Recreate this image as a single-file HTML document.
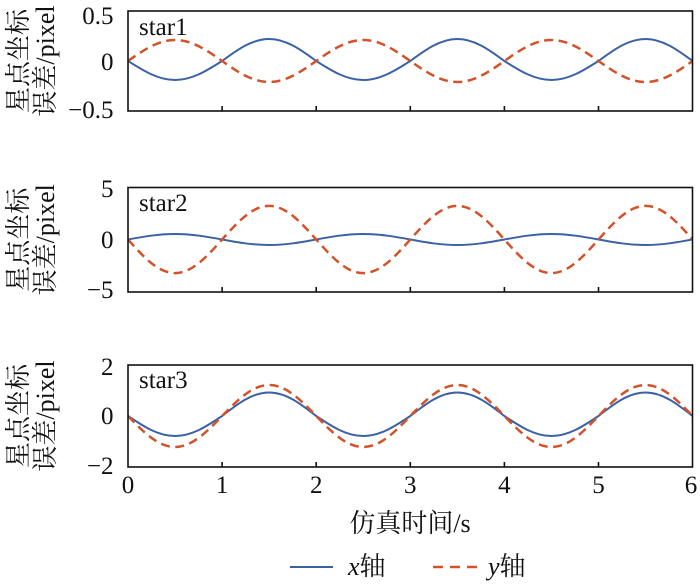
<!DOCTYPE html>
<html>
<head>
<meta charset="utf-8">
<style>
html,body{margin:0;padding:0;background:#fff;}
svg{display:block;}
text{font-family:"Liberation Serif","Noto Serif CJK SC",serif;fill:#111;}
</style>
</head>
<body>
<svg width="700" height="584" viewBox="0 0 700 584" xmlns="http://www.w3.org/2000/svg">
<defs>
<clipPath id="c1"><rect x="128" y="11" width="564.5" height="100"/></clipPath>
<clipPath id="c2"><rect x="128" y="187.5" width="564.5" height="104.5"/></clipPath>
<clipPath id="c3"><rect x="128" y="365" width="564.5" height="102"/></clipPath>
</defs>

<!-- Y labels -->
<g font-size="26">
<text transform="translate(27,61) rotate(-90)" text-anchor="middle">星点坐标</text>
<text transform="translate(54,61) rotate(-90)" text-anchor="middle">误差/pixel</text>
<text transform="translate(27,239.75) rotate(-90)" text-anchor="middle">星点坐标</text>
<text transform="translate(54,239.75) rotate(-90)" text-anchor="middle">误差/pixel</text>
<text transform="translate(27,416) rotate(-90)" text-anchor="middle">星点坐标</text>
<text transform="translate(54,416) rotate(-90)" text-anchor="middle">误差/pixel</text>
</g>

<!-- Y tick labels -->
<g font-size="25" text-anchor="end">
<text x="113.5" y="24">0.5</text>
<text x="113.5" y="70">0</text>
<text x="113.5" y="118">−0.5</text>
<text x="113.5" y="197">5</text>
<text x="113.5" y="248">0</text>
<text x="113.5" y="298">−5</text>
<text x="113.5" y="375">2</text>
<text x="113.5" y="424">0</text>
<text x="113.5" y="474">−2</text>
</g>

<!-- X tick labels -->
<g font-size="25" text-anchor="middle">
<text x="128" y="493">0</text>
<text x="222.1" y="493">1</text>
<text x="316.2" y="493">2</text>
<text x="410.3" y="493">3</text>
<text x="504.4" y="493">4</text>
<text x="598.5" y="493">5</text>
<text x="691" y="493">6</text>
</g>

<!-- X axis label -->
<text x="410" y="532" font-size="26" text-anchor="middle">仿真时间/s</text>

<!-- Panel 1 -->
<g clip-path="url(#c1)" fill="none">
<path stroke="#3b62a6" stroke-width="2" d="M128,61
c15.34,9.73 30.02,19 47.05,19 c17.03,0 31.71,-9.27 47.05,-19
c15.34,-11.27 30.02,-22 47.05,-22 c17.03,0 31.71,10.73 47.05,22
c15.34,9.73 30.02,19 47.05,19 c17.03,0 31.71,-9.27 47.05,-19
c15.34,-11.27 30.02,-22 47.05,-22 c17.03,0 31.71,10.73 47.05,22
c15.34,9.73 30.02,19 47.05,19 c17.03,0 31.71,-9.27 47.05,-19
c15.34,-11.27 30.02,-22 47.05,-22 c17.03,0 31.71,10.73 47.05,22"/>
<path stroke="#d35229" stroke-width="2.5" stroke-dasharray="9 5.5" d="M128,61
c15.34,-10.76 30.02,-21 47.05,-21 c17.03,0 31.71,10.24 47.05,21
c15.34,10.76 30.02,21 47.05,21 c17.03,0 31.71,-10.24 47.05,-21
c15.34,-10.76 30.02,-21 47.05,-21 c17.03,0 31.71,10.24 47.05,21
c15.34,10.76 30.02,21 47.05,21 c17.03,0 31.71,-10.24 47.05,-21
c15.34,-10.76 30.02,-21 47.05,-21 c17.03,0 31.71,10.24 47.05,21
c15.34,10.76 30.02,21 47.05,21 c17.03,0 31.71,-10.24 47.05,-21"/>
</g>

<!-- Panel 2 -->
<g clip-path="url(#c2)" fill="none">
<path stroke="#3b62a6" stroke-width="2" d="M128,239.5
c15.34,-2.82 30.02,-5.5 47.05,-5.5 c17.03,0 31.71,2.68 47.05,5.5
c15.34,2.82 30.02,5.5 47.05,5.5 c17.03,0 31.71,-2.68 47.05,-5.5
c15.34,-2.82 30.02,-5.5 47.05,-5.5 c17.03,0 31.71,2.68 47.05,5.5
c15.34,2.82 30.02,5.5 47.05,5.5 c17.03,0 31.71,-2.68 47.05,-5.5
c15.34,-2.82 30.02,-5.5 47.05,-5.5 c17.03,0 31.71,2.68 47.05,5.5
c15.34,2.82 30.02,5.5 47.05,5.5 c17.03,0 31.71,-2.68 47.05,-5.5"/>
<path stroke="#d35229" stroke-width="2.5" stroke-dasharray="9 5.5" d="M128,239.5
c15.34,17.21 30.02,33.6 47.05,33.6 c17.03,0 31.71,-16.39 47.05,-33.6
c15.34,-17.21 30.02,-33.6 47.05,-33.6 c17.03,0 31.71,16.39 47.05,33.6
c15.34,17.21 30.02,33.6 47.05,33.6 c17.03,0 31.71,-16.39 47.05,-33.6
c15.34,-17.21 30.02,-33.6 47.05,-33.6 c17.03,0 31.71,16.39 47.05,33.6
c15.34,17.21 30.02,33.6 47.05,33.6 c17.03,0 31.71,-16.39 47.05,-33.6
c15.34,-17.21 30.02,-33.6 47.05,-33.6 c17.03,0 31.71,16.39 47.05,33.6"/>
</g>

<!-- Panel 3 -->
<g clip-path="url(#c3)" fill="none">
<path stroke="#3b62a6" stroke-width="2" d="M128,416
c15.34,10.25 30.02,20 47.05,20 c17.03,0 31.71,-9.75 47.05,-20
c15.34,-12.04 30.02,-23.5 47.05,-23.5 c17.03,0 31.71,11.46 47.05,23.5
c15.34,10.25 30.02,20 47.05,20 c17.03,0 31.71,-9.75 47.05,-20
c15.34,-12.04 30.02,-23.5 47.05,-23.5 c17.03,0 31.71,11.46 47.05,23.5
c15.34,10.25 30.02,20 47.05,20 c17.03,0 31.71,-9.75 47.05,-20
c15.34,-12.04 30.02,-23.5 47.05,-23.5 c17.03,0 31.71,11.46 47.05,23.5"/>
<path stroke="#d35229" stroke-width="2.5" stroke-dasharray="9 5.5" d="M128,416
c15.34,15.88 30.02,31 47.05,31 c17.03,0 31.71,-15.12 47.05,-31
c15.34,-15.88 30.02,-31 47.05,-31 c17.03,0 31.71,15.12 47.05,31
c15.34,15.88 30.02,31 47.05,31 c17.03,0 31.71,-15.12 47.05,-31
c15.34,-15.88 30.02,-31 47.05,-31 c17.03,0 31.71,15.12 47.05,31
c15.34,15.88 30.02,31 47.05,31 c17.03,0 31.71,-15.12 47.05,-31
c15.34,-15.88 30.02,-31 47.05,-31 c17.03,0 31.71,15.12 47.05,31"/>
</g>

<!-- Boxes -->
<g fill="none" stroke="#111" stroke-width="1.6">
<rect x="128" y="11" width="564.5" height="100"/>
<rect x="128" y="187.5" width="564.5" height="104.5"/>
<rect x="128" y="365" width="564.5" height="102"/>
</g>

<!-- Ticks -->
<g stroke="#111" stroke-width="1.6">
<path d="M222.1,111v-5M316.2,111v-5M410.3,111v-5M504.4,111v-5M598.5,111v-5"/>
<path d="M222.1,292v-5M316.2,292v-5M410.3,292v-5M504.4,292v-5M598.5,292v-5"/>
<path d="M222.1,467v-5M316.2,467v-5M410.3,467v-5M504.4,467v-5M598.5,467v-5"/>
</g>

<!-- Panel labels -->
<g font-size="25">
<text x="139" y="35">star1</text>
<text x="139" y="211">star2</text>
<text x="139" y="388">star3</text>
</g>

<!-- Legend -->
<line x1="290" y1="567" x2="333" y2="567" stroke="#3b62a6" stroke-width="2"/>
<text x="348" y="575" font-size="26"><tspan font-style="italic">x</tspan>轴</text>
<line x1="433" y1="567" x2="477" y2="567" stroke="#d35229" stroke-width="2.5" stroke-dasharray="10 7"/>
<text x="488" y="575" font-size="26"><tspan font-style="italic">y</tspan>轴</text>
</svg>
</body>
</html>
